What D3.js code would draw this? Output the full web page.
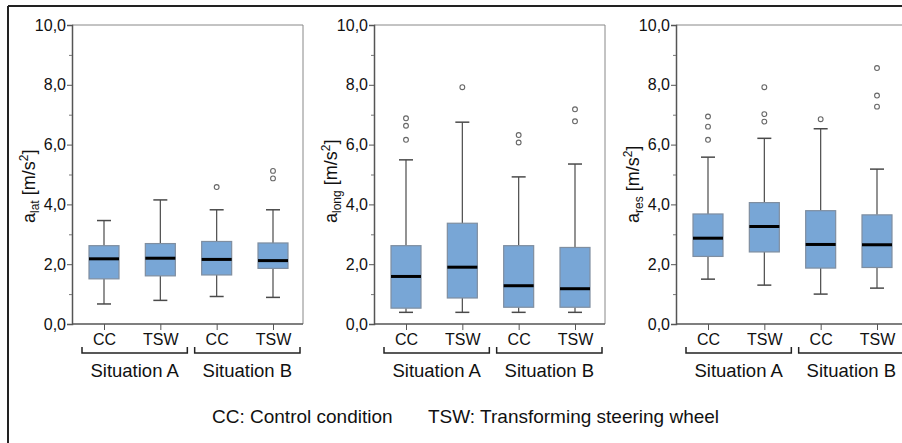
<!DOCTYPE html>
<html>
<head>
<meta charset="utf-8">
<script src="https://cdn.jsdelivr.net/npm/d3@7"></script>
<style>
  html, body { margin: 0; padding: 0; background: #fff; }
  svg { display: block; font-family: "Liberation Sans", Arial, sans-serif; }
</style>
</head>
<body>
<svg id="chart" width="902" height="443"></svg>
<script>
// ---------- data ----------
const categories = ["CC", "TSW", "CC", "TSW"];
const situations = ["Situation A", "Situation B"];
const yTickValues = [0, 2, 4, 6, 8, 10];
const yMinorTickValues = [1, 3, 5, 7, 9];
const legendItems = ["CC: Control condition", "TSW: Transforming steering wheel"];

// [whisker low, Q1, median, Q3, whisker high]
const latStats = [[0.67, 1.51, 2.18, 2.62, 3.46], [0.79, 1.61, 2.20, 2.69, 4.15], [0.92, 1.64, 2.16, 2.76, 3.82], [0.89, 1.86, 2.12, 2.71, 3.82]];
const latOutliers = [[], [], [4.58], [4.87, 5.12]];
const longStats = [[0.39, 0.53, 1.59, 2.62, 5.49], [0.39, 0.87, 1.90, 3.37, 6.75], [0.39, 0.56, 1.28, 2.62, 4.92], [0.39, 0.56, 1.18, 2.56, 5.35]];
const longOutliers = [[6.16, 6.63, 6.88], [7.92], [6.07, 6.32], [6.78, 7.18]];
const resStats = [[1.50, 2.26, 2.87, 3.68, 5.58], [1.30, 2.41, 3.26, 4.06, 6.21], [1.00, 1.87, 2.66, 3.79, 6.53], [1.20, 1.89, 2.65, 3.65, 5.18]];
const resOutliers = [[6.16, 6.60, 6.94], [6.77, 7.02, 7.92], [6.85], [7.27, 7.64, 8.56]];

const panels = [
  { sub: "lat", stats: latStats, outliers: latOutliers },
  { sub: "long", stats: longStats, outliers: longOutliers },
  { sub: "res", stats: resStats, outliers: resOutliers }
];

// ---------- layout ----------
const svg = d3.select("#chart");
const panelLefts = [72, 374, 676];
const plotW = 231, plotTop = 25, plotBottom = 324;
const boxW = 30, capW = 14;
const fillColor = "#78a6d6", boxStroke = "#7f8ea0", whiskerColor = "#4a4a4a";

// outer frame (left + top)
svg.append("line").attr("x1", 8).attr("x2", 902).attr("y1", 6).attr("y2", 6)
  .attr("stroke", "#222").attr("stroke-width", 2);
svg.append("line").attr("x1", 8).attr("x2", 8).attr("y1", 6).attr("y2", 443)
  .attr("stroke", "#222").attr("stroke-width", 2);

const y = d3.scaleLinear().domain([0, 10]).range([plotBottom, plotTop]);
const fmt = v => d3.format(".1f")(v).replace(".", ",");

panels.forEach((p, pi) => {
  const g = svg.append("g").attr("transform", `translate(${panelLefts[pi]},0)`);
  const x = d3.scalePoint().domain(d3.range(categories.length)).range([32, 201]);

  // frame top/right
  g.append("path")
    .attr("d", `M0,${plotTop}H${plotW}V${plotBottom}`)
    .attr("fill", "none").attr("stroke", "#888").attr("stroke-width", 1);

  // y axis
  const yAxis = d3.axisLeft(y).tickValues(yTickValues).tickFormat(fmt).tickSize(5).tickPadding(1);
  const ya = g.append("g").call(yAxis);
  ya.select(".domain").attr("stroke", "#555").attr("stroke-width", 1.5);
  ya.selectAll(".tick line").attr("stroke", "#555");
  ya.selectAll(".tick text").attr("font-size", 16).attr("fill", "#111")
    .attr("font-family", "Liberation Sans, Arial, sans-serif");
  const yMinor = d3.axisLeft(y).tickValues(yMinorTickValues).tickFormat("").tickSize(3);
  const ym = g.append("g").call(yMinor);
  ym.select(".domain").remove();
  ym.selectAll(".tick line").attr("stroke", "#777");

  // x axis
  const xa = g.append("g").attr("transform", `translate(0,${plotBottom})`)
    .call(d3.axisBottom(x).tickFormat(i => categories[i]).tickSize(6).tickPadding(4)
      .tickSizeOuter(0));
  xa.select(".domain").attr("d", `M0,0H${plotW}`).attr("stroke", "#555").attr("stroke-width", 1.5);
  xa.selectAll(".tick line").attr("stroke", "#555");
  xa.selectAll(".tick text").attr("font-size", 16).attr("fill", "#111")
    .attr("font-family", "Liberation Sans, Arial, sans-serif");

  // brackets + situation labels
  situations.forEach((s, si) => {
    const a = x(si * 2), b = x(si * 2 + 1);
    const x0 = a - 22, x1 = b + 27;
    g.append("path")
      .attr("d", `M${x0},347V353H${x1}V347`)
      .attr("fill", "none").attr("stroke", "#222").attr("stroke-width", 1.5);
    g.append("text").attr("x", (x0 + x1) / 2).attr("y", 377)
      .attr("text-anchor", "middle").attr("font-size", 18.5).attr("fill", "#111").text(s);
  });

  // y label
  const lab = g.append("text")
    .attr("transform", `translate(-37,223) rotate(-90)`)
    .attr("font-size", 18).attr("fill", "#111");
  lab.append("tspan").text("a");
  lab.append("tspan").attr("font-size", 12).attr("dy", 4).text(p.sub);
  lab.append("tspan").attr("dy", -4).text(" [m/s");
  lab.append("tspan").attr("font-size", 12).attr("dy", -7).text("2");
  lab.append("tspan").attr("dy", 7).text("]");

  // boxes
  p.stats.forEach((st, i) => {
    const cx = x(i);
    const [lo, q1, md, q3, hi] = st;
    g.append("line").attr("x1", cx).attr("x2", cx).attr("y1", y(hi)).attr("y2", y(q3))
      .attr("stroke", whiskerColor).attr("stroke-width", 1.2);
    g.append("line").attr("x1", cx).attr("x2", cx).attr("y1", y(q1)).attr("y2", y(lo))
      .attr("stroke", whiskerColor).attr("stroke-width", 1.2);
    g.append("line").attr("x1", cx - capW / 2).attr("x2", cx + capW / 2).attr("y1", y(hi)).attr("y2", y(hi))
      .attr("stroke", whiskerColor).attr("stroke-width", 1.5);
    g.append("line").attr("x1", cx - capW / 2).attr("x2", cx + capW / 2).attr("y1", y(lo)).attr("y2", y(lo))
      .attr("stroke", whiskerColor).attr("stroke-width", 1.5);
    g.append("rect").attr("x", cx - boxW / 2).attr("y", y(q3)).attr("width", boxW)
      .attr("height", y(q1) - y(q3))
      .attr("fill", fillColor).attr("stroke", boxStroke).attr("stroke-width", 1.2);
    g.append("line").attr("x1", cx - boxW / 2).attr("x2", cx + boxW / 2).attr("y1", y(md)).attr("y2", y(md))
      .attr("stroke", "#000").attr("stroke-width", 3);
    p.outliers[i].forEach(o => {
      g.append("circle").attr("cx", cx).attr("cy", y(o)).attr("r", 2.4)
        .attr("fill", "#fff").attr("stroke", "#666").attr("stroke-width", 1.1);
    });
  });
});

// legend
svg.append("text").attr("x", 212).attr("y", 423).attr("font-size", 19).attr("fill", "#111").text(legendItems[0]);
svg.append("text").attr("x", 428).attr("y", 423).attr("font-size", 19).attr("fill", "#111").text(legendItems[1]);
</script>
</body>
</html>
